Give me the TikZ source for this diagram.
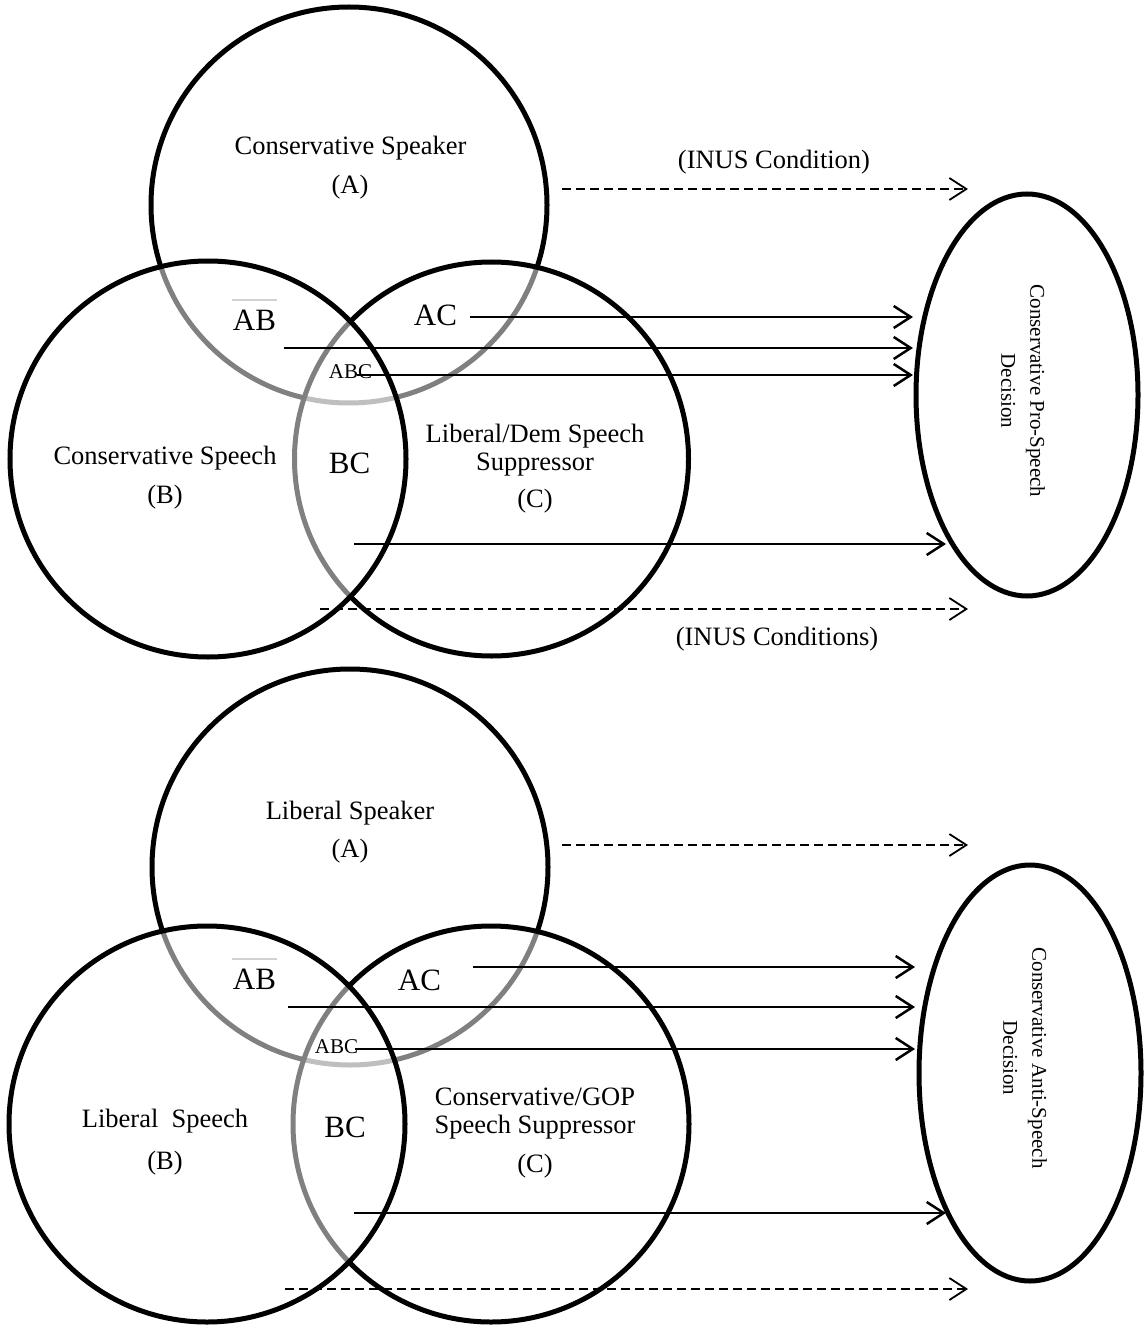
\documentclass[tikz,border=0pt]{standalone}
\usepackage{fontspec}
\setmainfont{Liberation Serif}
\usetikzlibrary{arrows.meta,shapes.geometric}
\begin{document}
\begin{tikzpicture}[x=1pt,y=-1pt,
  venn/.style={line width=5pt},
  vennfill/.style={line width=5pt, fill=white, fill opacity=0.5},
  inus/.style={line width=1.8pt, dash pattern=on 9pt off 5pt, -{Straight Barb[length=17pt,width=22pt]}},
  hit/.style={line width=2.5pt, -{Straight Barb[length=17pt,width=22pt]}},
  lbl/.style={anchor=base, inner sep=0pt, font=\fontsize{26.5}{29}\selectfont},
  big/.style={anchor=base, inner sep=0pt, font=\fontsize{31}{34}\selectfont},
  small/.style={anchor=base, inner sep=0pt, font=\fontsize{21}{24}\selectfont},
  decision/.style={draw, ellipse, line width=5pt, inner sep=0pt},
  dectext/.style={rotate=-90, align=center, inner sep=0pt, font=\fontsize{21}{29}\selectfont},
  faint/.style={draw=black!18, line width=1.2pt}
]
\useasboundingbox (0,0) rectangle (1143,1332);

% ================= TOP DIAGRAM =================
\draw[venn] (349,205) circle[radius=198pt];
\draw[vennfill] (491.5,459) circle[radius=197pt];
\draw[vennfill] (208,459) circle[radius=198pt];
\node[decision, minimum width=222pt, minimum height=402pt] (e1) at (1027,395) {};
\node[dectext] (e1t) at (1023,391) {Conservative Pro-Speech\\Decision};

\node[lbl] (tA) at (350.5,155) {Conservative Speaker};
\node[lbl] (tAa) at (350,194) {(A)};
\node[lbl] (tI1) at (774,169) {(INUS Condition)};
\node[lbl] (tB) at (165,464) {Conservative Speech};
\node[lbl] (tBb) at (165,503) {(B)};
\node[lbl] (tC) at (535,442) {Liberal/Dem Speech};
\node[lbl] (tC2) at (535,470) {Suppressor};
\node[lbl] (tCc) at (535,507) {(C)};
\node[lbl] (tI2) at (777,645) {(INUS Conditions)};

\node[big] (tAB) at (254.5,330) {AB};
\node[big] (tAC) at (435.5,325) {AC};
\node[small] (tABC) at (350.5,378) {ABC};
\node[big] (tBC) at (349.5,473) {BC};
\draw[faint] (232,300) -- (277,300);

\coordinate (i1s) at (562,189);  \coordinate (i1e) at (968,189);
\coordinate (acs) at (470,317);  \coordinate (ace) at (913,317);
\coordinate (abs) at (284,348);  \coordinate (abe) at (913,348);
\coordinate (abcs) at (357,375); \coordinate (abce) at (913,375);
\coordinate (bcs) at (354,544);  \coordinate (bce) at (946,544);
\coordinate (i2s) at (320,609);  \coordinate (i2e) at (968,609);
\draw[inus] (i1s) -- (i1e);
\draw[hit] (acs) -- (ace);
\draw[hit] (abs) -- (abe);
\draw[hit] (abcs) -- (abce);
\draw[hit] (bcs) -- (bce);
\draw[inus] (i2s) -- (i2e);

% ================= BOTTOM DIAGRAM =================
\draw[venn] (350,867) circle[radius=198pt];
\draw[vennfill] (491,1124) circle[radius=198pt];
\draw[vennfill] (207,1124) circle[radius=198pt];
\node[decision, minimum width=222pt, minimum height=416pt] (e2) at (1030,1073) {};
\node[dectext] (e2t) at (1025,1058) {Conservative Anti-Speech\\Decision};

\node[lbl] (bA) at (350,819) {Liberal Speaker};
\node[lbl] (bAa) at (350,857) {(A)};
\node[lbl] (bB) at (165,1127) {Liberal\ \ Speech};
\node[lbl] (bBb) at (165,1169) {(B)};
\node[lbl] (bC) at (535,1105) {Conservative/GOP};
\node[lbl] (bC2) at (535,1133) {Speech Suppressor};
\node[lbl] (bCc) at (535,1172) {(C)};

\node[big] (bAB) at (254.5,989) {AB};
\node[big] (bAC) at (419.5,990) {AC};
\node[small] (bABC) at (336.5,1053) {ABC};
\node[big] (bBC) at (345,1137) {BC};
\draw[faint] (232,959) -- (277,959);

\coordinate (j1s) at (562,845);  \coordinate (j1e) at (968,845);
\coordinate (bacs) at (473,967);  \coordinate (bace) at (915,967);
\coordinate (babs) at (288,1007); \coordinate (babe) at (915,1007);
\coordinate (babcs) at (355,1049); \coordinate (babce) at (915,1049);
\coordinate (bbcs) at (354,1213); \coordinate (bbce) at (946,1213);
\coordinate (j2s) at (285,1289); \coordinate (j2e) at (968,1289);
\draw[inus] (j1s) -- (j1e);
\draw[hit] (bacs) -- (bace);
\draw[hit] (babs) -- (babe);
\draw[hit] (babcs) -- (babce);
\draw[hit] (bbcs) -- (bbce);
\draw[inus] (j2s) -- (j2e);
\end{tikzpicture}
\end{document}
